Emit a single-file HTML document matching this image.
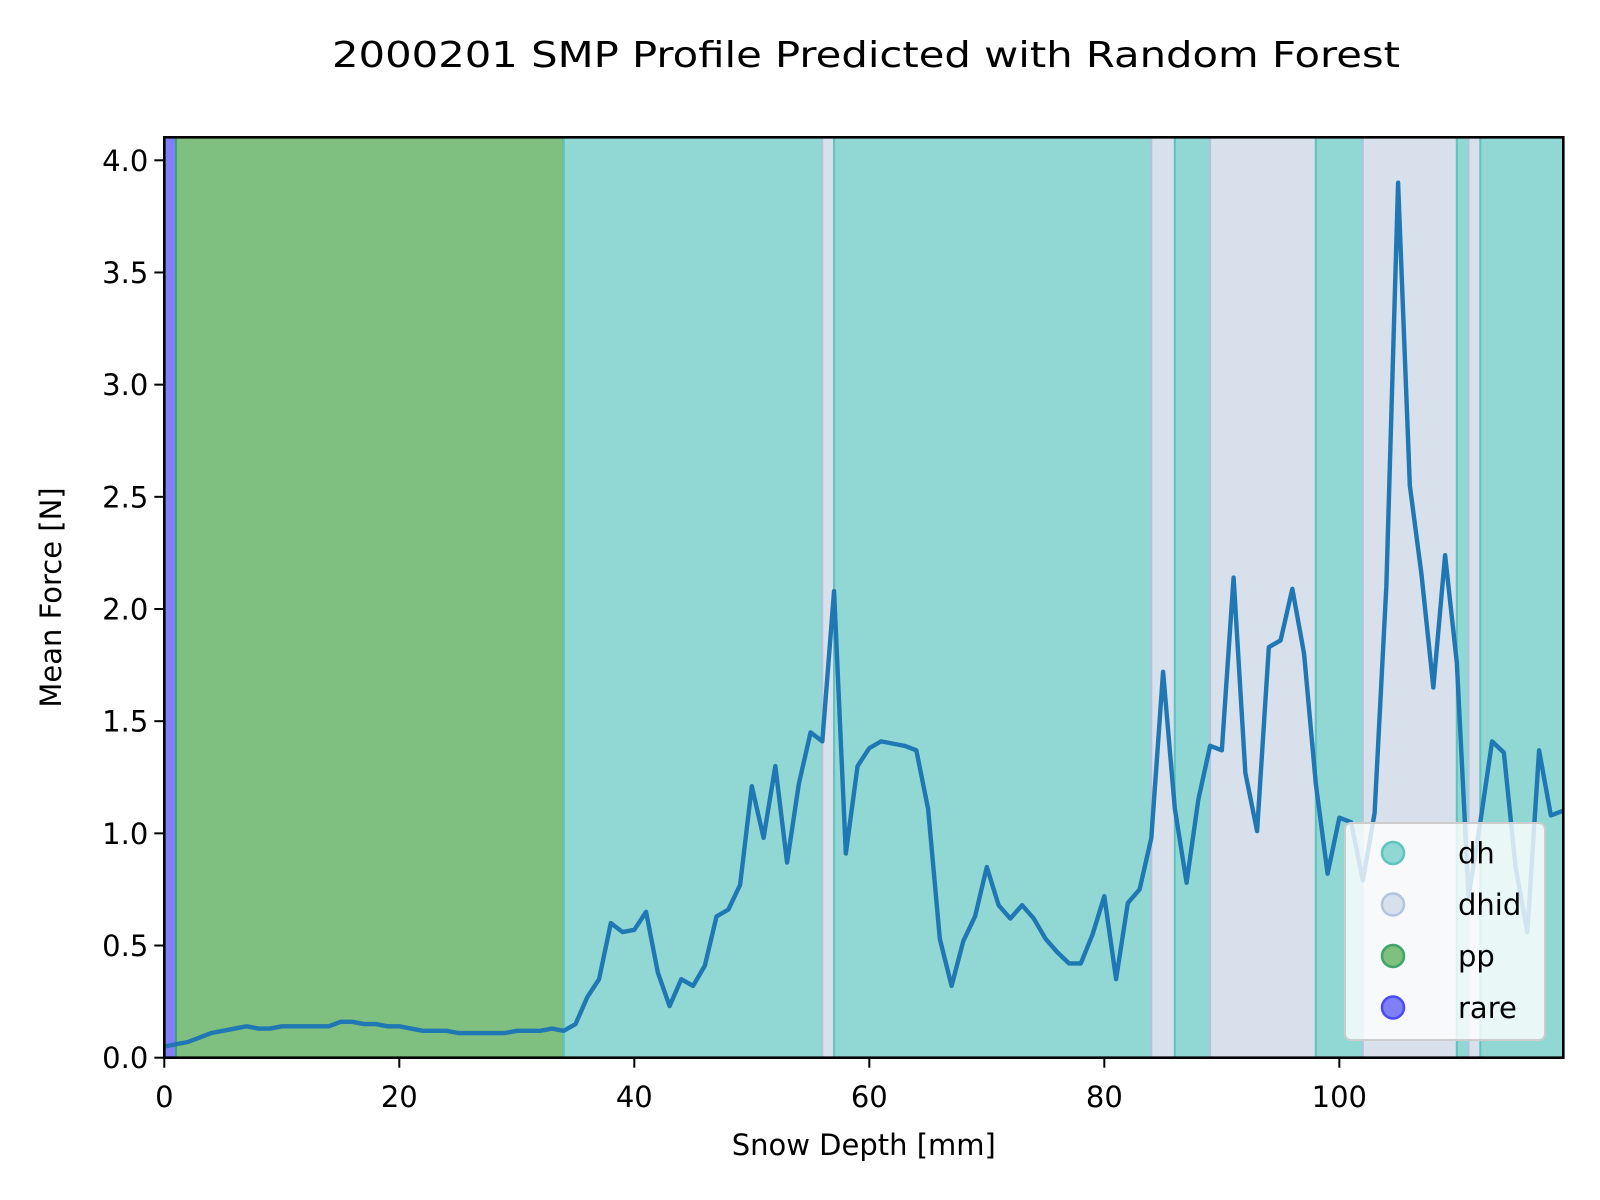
<!DOCTYPE html>
<html><head><meta charset="utf-8"><style>
html,body{margin:0;padding:0;background:#fff;}
svg{display:block;font-family:"DejaVu Sans","Liberation Sans",sans-serif;}
</style></head><body>
<svg id="chart" width="1600" height="1200" viewBox="0 0 1600 1200" xmlns="http://www.w3.org/2000/svg">
<rect width="1600" height="1200" fill="#fff"/>
<text x="866" y="67" font-size="36" text-anchor="middle" textLength="1068" lengthAdjust="spacingAndGlyphs">2000201 SMP Profile Predicted with Random Forest</text>
<g id="bands"></g>
<g id="line"></g>
<g id="axes"></g>
<g id="legend"></g>
</svg>
<script>
const depths = [];
for (let i = 0; i <= 119; i++) depths.push(i);
const force = [0.05,0.06,0.07,0.09,0.11,0.12,0.13,0.14,0.13,0.13,0.14,0.14,0.14,0.14,0.14,0.16,0.16,0.15,0.15,0.14,
0.14,0.13,0.12,0.12,0.12,0.11,0.11,0.11,0.11,0.11,0.12,0.12,0.12,0.13,0.12,0.15,0.27,0.35,0.60,0.56,
0.57,0.65,0.38,0.23,0.35,0.32,0.41,0.63,0.66,0.77,1.21,0.98,1.30,0.87,1.22,1.45,1.41,2.08,0.91,1.30,
1.38,1.41,1.40,1.39,1.37,1.11,0.53,0.32,0.52,0.63,0.85,0.68,0.62,0.68,0.62,0.53,0.47,0.42,0.42,0.55,
0.72,0.35,0.69,0.75,0.98,1.72,1.11,0.78,1.15,1.39,1.37,2.14,1.27,1.01,1.83,1.86,2.09,1.80,1.22,0.82,
1.07,1.05,0.79,1.09,2.10,3.90,2.55,2.15,1.65,2.24,1.76,0.72,1.05,1.41,1.36,0.85,0.56,1.37,1.08,1.10];
const bandStarts = [0,1,34,56,57,84,86,89,98,102,110,111,112];
const bandEnds   = [1,34,56,57,84,86,89,98,102,110,111,112,119.06];
const bandClass  = ['rare','pp','dh','dhid','dh','dhid','dh','dhid','dh','dhid','dh','dhid','dh'];
const xTicks = [0,20,40,60,80,100];
const yTicks = [0,0.5,1.0,1.5,2.0,2.5,3.0,3.5,4.0];
const yTickLabels = ['0.0','0.5','1.0','1.5','2.0','2.5','3.0','3.5','4.0'];
const legendLabels = ['dh','dhid','pp','rare'];

const NS='http://www.w3.org/2000/svg';
const L=164.3,R=1563.3,T=137.3,B=1057.7,XMAX=119.06,YMAX=(B-T)/224.35;
const sx=v=>L+v/XMAX*(R-L), sy=v=>B-v/YMAX*(B-T);
const fills={dh:'#91d8d4',dhid:'#d7e0eb',pp:'#7fbf7f',rare:'#7f7ff8'};
const edges={dh:'#5fc4bd',dhid:'#b3c5dc',pp:'#3fa46a',rare:'#4a4af5'};
function mk(tag,attrs,parent){const e=document.createElementNS(NS,tag);for(const k in attrs)e.setAttribute(k,attrs[k]);parent.appendChild(e);return e;}
const gb=document.getElementById('bands');
bandStarts.forEach((s,i)=>{
  const c=bandClass[i];
  const r=mk('rect',{x:sx(s),y:T,width:sx(bandEnds[i])-sx(s),height:B-T,fill:fills[c],stroke:edges[c],'stroke-width':2},gb);
  
  
});
const gl=document.getElementById('line');
const p=mk('polyline',{points:depths.map((d,i)=>sx(d)+','+sy(force[i])).join(' '),fill:'none',stroke:'#1f77b4','stroke-width':4.4,'stroke-linejoin':'round'},gl);


const ga=document.getElementById('axes');
const fr=mk('rect',{x:L,y:T,width:R-L,height:B-T,fill:'none',stroke:'#000','stroke-width':2.6},ga);


xTicks.forEach(v=>{
  mk('line',{x1:sx(v),x2:sx(v),y1:B,y2:B+10,stroke:'#000','stroke-width':2},ga);
  const t=mk('text',{x:sx(v),y:1107,'font-size':29,'text-anchor':'middle'},ga);
  t.textContent=v;
  
  
});
yTicks.forEach((v,i)=>{
  mk('line',{x1:L-10,x2:L,y1:sy(v),y2:sy(v),stroke:'#000','stroke-width':2},ga);
  const t=mk('text',{x:L-16,y:sy(v)+10.5,'font-size':29,'text-anchor':'end'},ga);
  t.textContent=yTickLabels[i];
  
  
});
const xl=mk('text',{x:(L+R)/2,y:1155,'font-size':29,'text-anchor':'middle'},ga);
xl.textContent='Snow Depth [mm]';


const yl=mk('text',{x:0,y:0,'font-size':29,'text-anchor':'middle',transform:'translate(61,'+((T+B)/2)+') rotate(-90)'},ga);
yl.textContent='Mean Force [N]';


const lg=document.getElementById('legend');
const lb=mk('rect',{x:1345,y:823,width:200,height:217,rx:6,fill:'#fff','fill-opacity':0.8,stroke:'#cccccc','stroke-width':2},lg);


legendLabels.forEach((c,i)=>{
  const y=853+i*51.5;
  const m=mk('circle',{cx:1393,cy:y,r:11,fill:fills[c],stroke:edges[c],'stroke-width':2.5},lg);
  
  
  const t=mk('text',{x:1458,y:y+10.5,'font-size':29},lg);
  t.textContent=c;
  
  
});
</script>
</body></html>
